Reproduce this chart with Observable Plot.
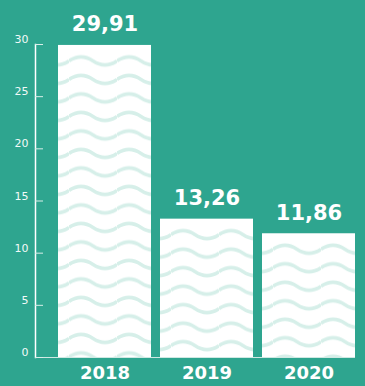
<!DOCTYPE html>
<html>
<head>
<meta charset="utf-8">
<script src="https://cdn.jsdelivr.net/npm/d3@7"></script>
<script src="https://cdn.jsdelivr.net/npm/@observablehq/plot@0.6"></script>
<style>
  html, body { margin: 0; padding: 0; background: #2ea58f; }
  svg { display: block; }
</style>
</head>
<body>
<div id="chart"></div>
<script>
const years = ["2018", "2019", "2020"];
const values = [29.91, 13.26, 11.86];
const yTicks = [0, 5, 10, 15, 20, 25, 30];

const data = years.map((year, i) => ({year, value: values[i], pattern: `url(#wave-${i})`}));

const svg = Plot.plot({
  width: 365,
  height: 386,
  marginLeft: 35,
  marginRight: 10,
  marginTop: 44,
  marginBottom: 29,
  style: {background: "#2ea58f", color: "white", fontFamily: "DejaVu Sans"},
  x: {domain: years, range: [57, 355], paddingInner: 0.0927, paddingOuter: 0, label: null},
  y: {domain: [0, 30], label: null},
  color: {type: "identity"},
  marks: [
    Plot.ruleY([0], {stroke: "#cfe9e3", strokeWidth: 1}),
    Plot.barY(data, {x: "year", y: "value", fill: "white"}),
    Plot.barY(data, {x: "year", y: "value", fill: "pattern", insetTop: 6.75}),
    Plot.frame({anchor: "left", stroke: "white", strokeWidth: 1.5}),
    Plot.axisY(yTicks, {tickSize: 8, dx: 8, text: null, stroke: "#d8efe9", label: null}),
    Plot.axisY(yTicks, {tickSize: 0, tickPadding: 7, dy: -5, fontSize: 11, fill: "#f2faf8", label: null}),
    Plot.axisX({tickSize: 0, tickPadding: 9, fontSize: 18, fontWeight: "bold", fill: "white", label: null}),
    Plot.text(data, {
      x: "year", y: "value",
      text: d => d.value.toFixed(2).replace(".", ","),
      dy: -14, lineAnchor: "bottom",
      fontSize: 21, fontWeight: "bold", fill: "white"
    })
  ]
});

// wave pattern tiles anchored at each bar's top-left corner (positions from Plot's scales)
const xs = svg.scale("x"), ys = svg.scale("y");
const defs = d3.select(svg).insert("defs", ":first-child");
data.forEach((d, i) => {
  const left = xs.apply(d.year), top = ys.apply(d.value);
  const p = defs.append("pattern")
    .attr("id", `wave-${i}`)
    .attr("patternUnits", "userSpaceOnUse")
    .attr("x", left + 11).attr("y", top + 6.75)
    .attr("width", 48).attr("height", 18.5);
  p.append("path").attr("d", "M0,9.25 Q12,1.25 24,9.25 T48,9.25")
    .attr("fill", "none").attr("stroke", "#d6efe9").attr("stroke-width", 3.5);
});

document.getElementById("chart").appendChild(svg);
</script>
</body>
</html>
